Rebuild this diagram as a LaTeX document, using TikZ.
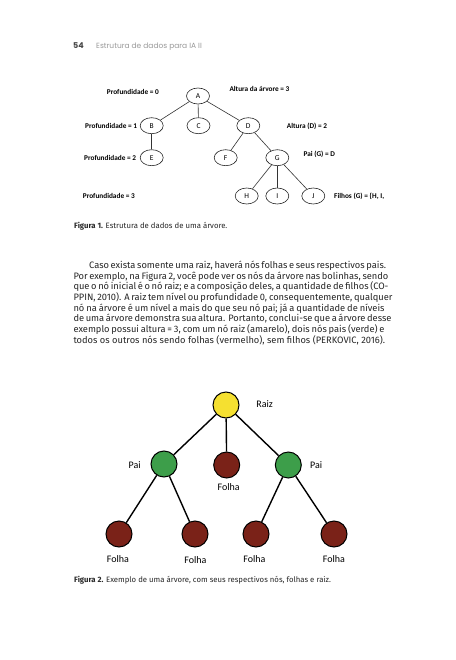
\documentclass[tikz,border=0pt]{standalone}
\usepackage{fontspec}
\setmainfont{Fira Sans}
\newfontfamily\carl{Carlito}
\newfontfamily\pop{Poppins}
\usetikzlibrary{shapes.geometric}
\definecolor{hdrgray}{HTML}{9A9A9A}
\definecolor{numgray}{HTML}{444444}
\definecolor{rootyellow}{HTML}{F5E030}
\definecolor{pargreen}{HTML}{3D9E4A}
\definecolor{leafred}{HTML}{7A2218}
\definecolor{bodytext}{HTML}{262626}
\newsavebox\measbox
\newdimen\measdim
\newcommand\fitfont[3]{\sbox\measbox{#3}\measdim=\wd\measbox\pgfmathsetmacro#1{10*#2/\the\measdim}}
\tikzset{
  tnode/.style={ellipse, draw=black!85, line width=0.6pt, minimum width=23pt, minimum height=16pt, inner sep=0pt, font=\carl\fontsize{7.5}{8}\selectfont},
  tlab/.style={anchor=west, inner sep=0pt, font=\carl\bfseries\fontsize{7.3}{8}\selectfont},
  cnode/.style={circle, draw=black, line width=1pt, minimum size=26pt, inner sep=0pt},
  clab/.style={inner sep=0pt, font=\carl\fontsize{10}{11}\selectfont},
  edgeone/.style={draw=black!80, line width=0.6pt},
  edgetwo/.style={draw=black, line width=1.4pt},
  bodyline/.style={anchor=base west, inner sep=0pt, text=bodytext, font=\fontsize{\bodysize}{10.7}\selectfont},
  caption/.style={anchor=base west, inner sep=0pt, text=bodytext, font=\fontsize{\capsize}{8}\selectfont},
}
\begin{document}
\fitfont\bodysize{311.7}{\fontsize{10}{12}\selectfont todos os outros nós sendo folhas (vermelho), sem filhos (PERKOVIC, 2016).}%
\fitfont\capsize{256.7}{\fontsize{10}{12}\selectfont\textbf{Figura 2.} Exemplo de uma árvore, com seus respectivos nós, folhas e raiz.}%
\fitfont\hdrsize{105.7}{\pop\fontsize{10}{12}\selectfont Estrutura de dados para IA II}%
\begin{tikzpicture}[x=1pt,y=-1pt]
\useasboundingbox (0,0) rectangle (455,660);
\fill[white] (0,0) rectangle (455,660);

% header
\node[anchor=base west, inner sep=0pt, text=numgray, font=\pop\bfseries\fontsize{8}{9}\selectfont] (pagenum) at (73,48.5) {54};
\node[anchor=base west, inner sep=0pt, text=hdrgray, font=\pop\fontsize{\hdrsize}{9}\selectfont] (hdr) at (96,48.5) {Estrutura de dados para IA II};

% Figure 1
\node[tnode] (A) at (198,96) {A};
\node[tnode] (B) at (151.7,125.7) {B};
\node[tnode] (C) at (198.5,125.7) {C};
\node[tnode] (D) at (248.3,125.7) {D};
\node[tnode] (E) at (151.7,157.7) {E};
\node[tnode] (F) at (225.7,157.7) {F};
\node[tnode] (G) at (277.3,157.7) {G};
\node[tnode] (H) at (246.7,196) {H};
\node[tnode] (I) at (277.3,196) {I};
\node[tnode] (J) at (313.3,196) {J};
\foreach \a/\b in {A/B,A/C,A/D,B/E,D/F,D/G,G/H,G/I,G/J}
  \draw[edgeone] (\a) -- (\b);

\node[tlab] (p0) at (106.7,92.3) {Profundidade = 0};
\node[tlab] (alt) at (229.3,89) {Altura da árvore = 3};
\node[tlab] (p1) at (85,125.7) {Profundidade = 1};
\node[tlab] (altd) at (286.7,126.7) {Altura (D) = 2};
\node[tlab] (p2) at (84,158.3) {Profundidade = 2};
\node[tlab] (paig) at (303.3,154) {Pai (G) = D};
\node[tlab] (p3) at (82.7,195.7) {Profundidade = 3};
\node[tlab] (filhos) at (334,196.7) {Filhos (G) = \{H, I,};

\node[caption] (cap1) at (74,228.3) {\textbf{Figura 1.} Estrutura de dados de uma árvore.};

% paragraph
\node[bodyline] (l1) at (89,268.3) {\makebox[295.3pt][s]{Caso exista somente uma raiz, haverá nós folhas e seus respectivos pais.}};
\node[bodyline] (l2) at (73.3,279.02) {\makebox[311pt][s]{Por exemplo, na Figura 2, você pode ver os nós da árvore nas bolinhas, sendo}};
\node[bodyline] (l3) at (73.3,289.74) {\makebox[311pt][s]{que o nó inicial é o nó raiz; e a composição deles, a quantidade de filhos (CO-}};
\node[bodyline] (l4) at (73.3,300.46) {\makebox[311pt][s]{PPIN, 2010). A raiz tem nível ou profundidade 0, consequentemente, qualquer}};
\node[bodyline] (l5) at (73.3,311.18) {\makebox[311pt][s]{nó na árvore é um nível a mais do que seu nó pai; já a quantidade de níveis}};
\node[bodyline] (l6) at (73.3,321.9) {\makebox[311pt][s]{de uma árvore demonstra sua altura. Portanto, conclui-se que a árvore desse}};
\node[bodyline] (l7) at (73.3,332.62) {\makebox[311pt][s]{exemplo possui altura = 3, com um nó raiz (amarelo), dois nós pais (verde) e}};
\node[bodyline] (l8) at (73.3,343.34) {todos os outros nós sendo folhas (vermelho), sem filhos (PERKOVIC, 2016).};

% Figure 2
\node[cnode, fill=rootyellow] (R) at (226,405) {};
\node[cnode, fill=pargreen] (P1) at (164,464) {};
\node[cnode, fill=leafred] (L0) at (226.7,465) {};
\node[cnode, fill=pargreen] (P2) at (288.3,465) {};
\node[cnode, fill=leafred] (L1) at (119,534) {};
\node[cnode, fill=leafred] (L2) at (195,534) {};
\node[cnode, fill=leafred] (L3) at (256,534) {};
\node[cnode, fill=leafred] (L4) at (334,534) {};
\foreach \a/\b in {R/P1,R/L0,R/P2,P1/L1,P1/L2,P2/L3,P2/L4}
  \draw[edgetwo] (\a) -- (\b);

\node[clab] (raiz) at (264.7,404.3) {Raiz};
\node[clab] (pai1) at (134.7,465) {Pai};
\node[clab] (pai2) at (316.2,465) {Pai};
\node[clab] (f0) at (228.7,486.7) {Folha};
\node[clab] (f1) at (118,559) {Folha};
\node[clab] (f2) at (195.5,559.7) {Folha};
\node[clab] (f3) at (254.5,559) {Folha};
\node[clab] (f4) at (334,559) {Folha};

\node[caption] (cap2) at (74,582.5) {\textbf{Figura 2.} Exemplo de uma árvore, com seus respectivos nós, folhas e raiz.};
\end{tikzpicture}
\end{document}
